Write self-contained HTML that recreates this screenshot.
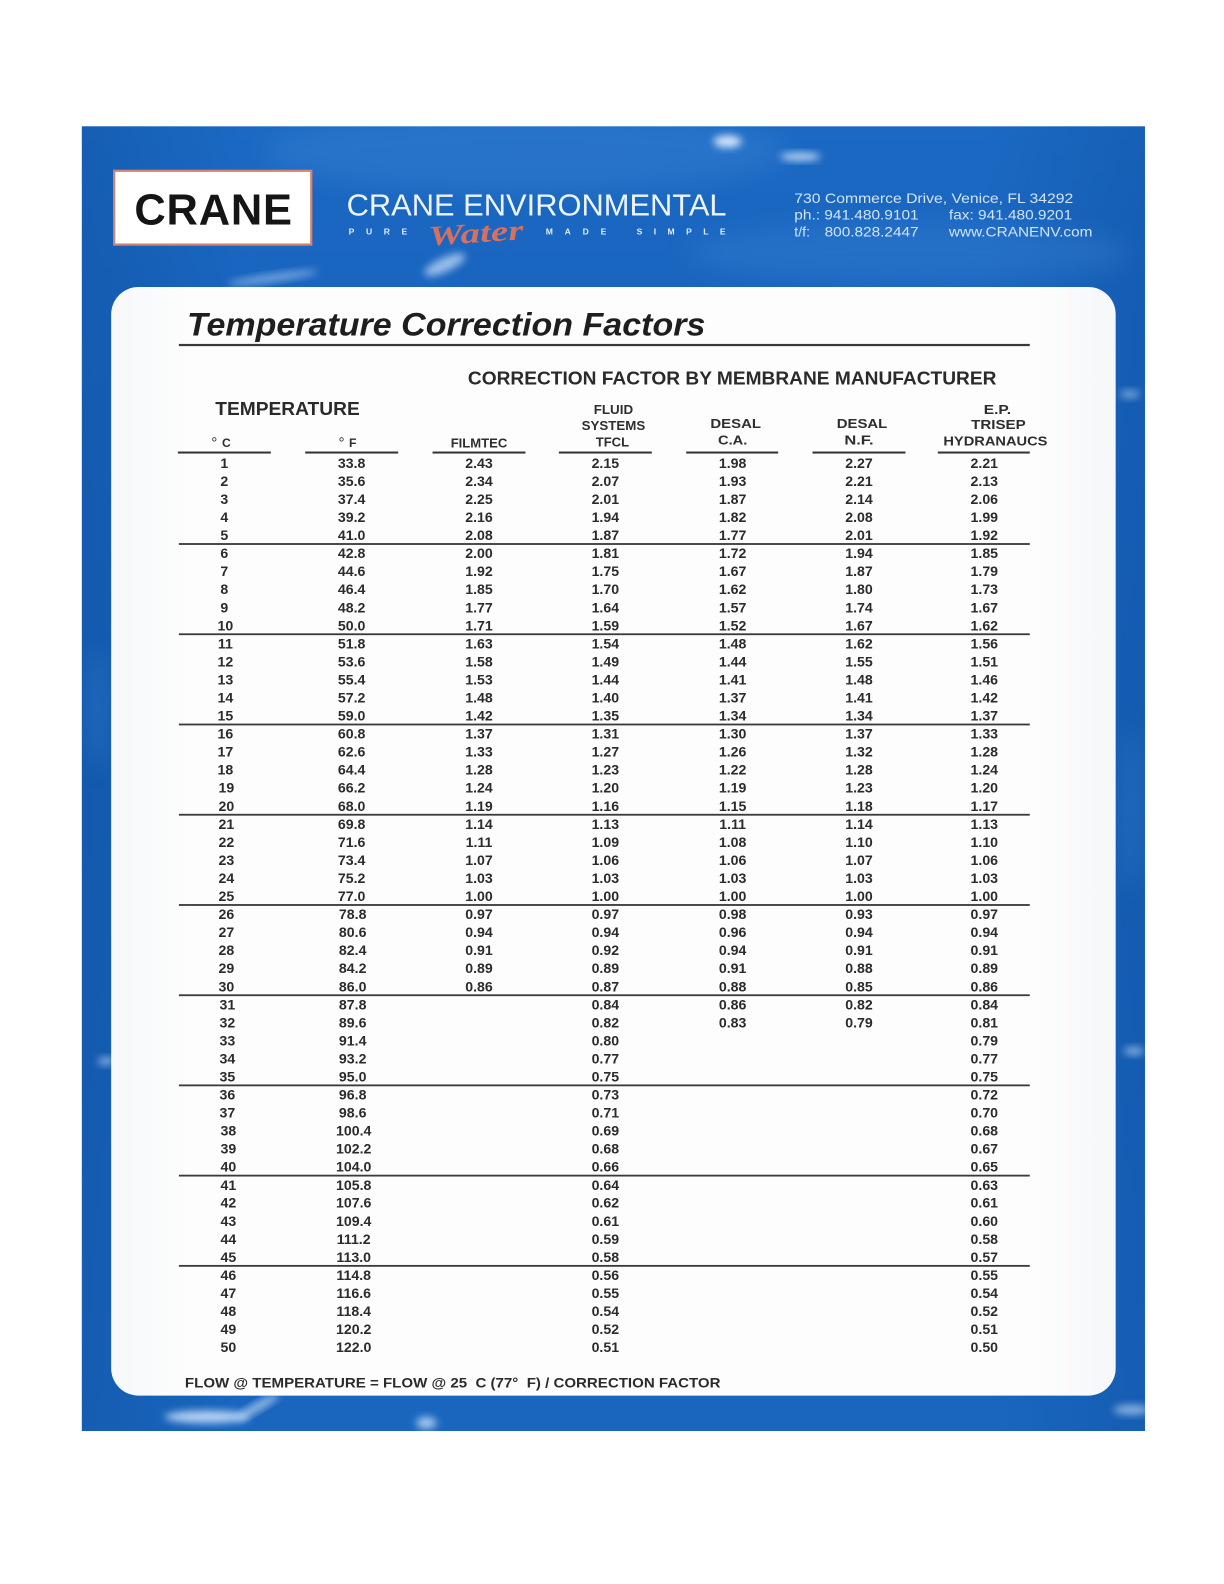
<!DOCTYPE html>
<html>
<head>
<meta charset="utf-8">
<style>
html,body{margin:0;padding:0;background:#fff;}
body{width:1224px;height:1584px;overflow:hidden;}
svg{display:block;}
</style>
</head>
<body>
<svg width="1224" height="1584" viewBox="0 0 1211.2 1567.4" preserveAspectRatio="none" xmlns="http://www.w3.org/2000/svg" font-family="'Liberation Sans', Arial, sans-serif">
<defs>
  <linearGradient id="bg" x1="0" y1="0" x2="0" y2="1">
    <stop offset="0" stop-color="#1b69c3"/>
    <stop offset="0.12" stop-color="#1965bf"/>
    <stop offset="0.5" stop-color="#1762b9"/>
    <stop offset="1" stop-color="#1a66bf"/>
  </linearGradient>
  <linearGradient id="bgh" x1="0" y1="0" x2="1" y2="0">
    <stop offset="0" stop-color="#0c4a98" stop-opacity="0.35"/>
    <stop offset="0.15" stop-color="#0c4a98" stop-opacity="0"/>
    <stop offset="0.85" stop-color="#0c4a98" stop-opacity="0"/>
    <stop offset="1" stop-color="#0c4a98" stop-opacity="0.3"/>
  </linearGradient>
  <linearGradient id="card" x1="0" y1="0" x2="1" y2="0">
    <stop offset="0" stop-color="#f6f8fa"/>
    <stop offset="0.08" stop-color="#fdfdfd"/>
    <stop offset="0.92" stop-color="#fdfdfd"/>
    <stop offset="1" stop-color="#f5f7f9"/>
  </linearGradient>
  <filter id="blur4" x="-50%" y="-50%" width="200%" height="200%"><feGaussianBlur stdDeviation="4"/></filter>
  <filter id="blur10" x="-50%" y="-50%" width="200%" height="200%"><feGaussianBlur stdDeviation="12"/></filter>
  <clipPath id="panel"><rect x="81" y="125" width="1052" height="1291"/></clipPath>
</defs>

<!-- blue panel -->
<rect x="81" y="125" width="1052" height="1291" fill="url(#bg)"/>
<rect x="81" y="125" width="1052" height="1291" fill="url(#bgh)"/>
<g clip-path="url(#panel)">
  <ellipse cx="520" cy="150" rx="260" ry="40" fill="#4f94e0" opacity="0.25" filter="url(#blur10)"/>
  <ellipse cx="900" cy="250" rx="220" ry="30" fill="#4a8fdc" opacity="0.25" filter="url(#blur10)"/>
  <ellipse cx="720" cy="140" rx="14" ry="6" fill="#e8f2ff" opacity="0.9" filter="url(#blur4)"/>
  <ellipse cx="792" cy="155" rx="20" ry="4" fill="#e8f2ff" opacity="0.8" filter="url(#blur4)"/>
  <ellipse cx="440" cy="262" rx="22" ry="7" fill="#cfe3fb" opacity="0.7" filter="url(#blur4)" transform="rotate(-25 440 262)"/>
  <ellipse cx="270" cy="275" rx="45" ry="4" fill="#cfe3fb" opacity="0.5" filter="url(#blur4)" transform="rotate(-8 270 275)"/>
  <ellipse cx="205" cy="1402" rx="42" ry="6" fill="#d4e7fd" opacity="0.85" filter="url(#blur4)"/>
  <ellipse cx="255" cy="1392" rx="24" ry="4" fill="#d4e7fd" opacity="0.7" filter="url(#blur4)" transform="rotate(-30 255 1392)"/>
  <ellipse cx="422" cy="1408" rx="10" ry="6" fill="#d4e7fd" opacity="0.75" filter="url(#blur4)"/>
  <ellipse cx="105" cy="1050" rx="8" ry="4" fill="#d4e7fd" opacity="0.6" filter="url(#blur4)"/>
  <ellipse cx="1122" cy="1040" rx="10" ry="4" fill="#d4e7fd" opacity="0.6" filter="url(#blur4)"/>
  <ellipse cx="1118" cy="390" rx="10" ry="4" fill="#d4e7fd" opacity="0.5" filter="url(#blur4)"/>
  <ellipse cx="1120" cy="1395" rx="18" ry="5" fill="#d4e7fd" opacity="0.6" filter="url(#blur4)"/>
  <ellipse cx="96" cy="700" rx="10" ry="60" fill="#3b84d6" opacity="0.4" filter="url(#blur10)"/>
  <ellipse cx="1120" cy="800" rx="10" ry="80" fill="#3b84d6" opacity="0.4" filter="url(#blur10)"/>
</g>

<!-- white card -->
<rect x="110" y="284" width="994" height="1097" rx="27" ry="27" fill="url(#card)"/>

<!-- logo box -->
<rect x="113" y="169" width="195" height="73" fill="#ffffff" stroke="#d7826f" stroke-width="2.2"/>
<text x="133" y="222" font-size="43" font-weight="bold" fill="#151515" textLength="156" lengthAdjust="spacing">CRANE</text>

<!-- company name -->
<text x="343" y="213" font-size="30" fill="#eef4fc" textLength="376" lengthAdjust="spacingAndGlyphs">CRANE ENVIRONMENTAL</text>
<g font-size="8.5" font-weight="bold" fill="#e3edf9">
  <text x="345" y="232" textLength="58" lengthAdjust="spacing">PURE</text>
  <text x="540" y="232" textLength="60" lengthAdjust="spacing">MADE</text>
  <text x="630" y="232" textLength="88" lengthAdjust="spacing">SIMPLE</text>
</g>
<text x="424" y="240" font-family="'Liberation Serif', serif" font-style="italic" font-weight="bold" font-size="28" fill="#d8705f" textLength="94" lengthAdjust="spacingAndGlyphs" transform="rotate(-4 470 232)">Water</text>

<!-- address -->
<g font-size="14" fill="#d3e4f7">
  <text x="786" y="201" textLength="276" lengthAdjust="spacingAndGlyphs">730 Commerce Drive, Venice, FL  34292</text>
  <text x="786" y="217" textLength="123" lengthAdjust="spacingAndGlyphs">ph.: 941.480.9101</text>
  <text x="939" y="217" textLength="122" lengthAdjust="spacingAndGlyphs">fax: 941.480.9201</text>
  <text x="786" y="234">t/f:</text>
  <text x="816" y="234" textLength="93" lengthAdjust="spacingAndGlyphs">800.828.2447</text>
  <text x="939" y="234" textLength="142" lengthAdjust="spacingAndGlyphs">www.CRANENV.com</text>
</g>

<!-- title -->
<text x="185" y="332" font-size="32" font-weight="bold" font-style="italic" fill="#1e1e1e" textLength="513" lengthAdjust="spacingAndGlyphs">Temperature Correction Factors</text>
<rect x="177" y="340.3" width="842" height="2.2" fill="#3a3a3a"/>

<text x="463" y="380.5" font-size="18" font-weight="bold" fill="#2a2a2a" textLength="523" lengthAdjust="spacingAndGlyphs">CORRECTION FACTOR BY MEMBRANE MANUFACTURER</text>
<text x="213" y="410.5" font-size="18" font-weight="bold" fill="#2a2a2a" textLength="143" lengthAdjust="spacingAndGlyphs">TEMPERATURE</text>

<!-- column headers -->
<g font-size="13" font-weight="bold" fill="#2e2e2e" text-anchor="middle">
  <text x="212" y="443" font-size="15" font-weight="normal">°</text>
  <text x="224" y="442.5" font-size="12">C</text>
  <text x="338" y="443" font-size="15" font-weight="normal">°</text>
  <text x="349" y="442.5" font-size="12">F</text>
  <text x="474" y="442.7" textLength="56" lengthAdjust="spacingAndGlyphs">FILMTEC</text>
  <text x="607" y="409.7" textLength="39" lengthAdjust="spacingAndGlyphs">FLUID</text>
  <text x="607" y="425.7" textLength="63" lengthAdjust="spacingAndGlyphs">SYSTEMS</text>
  <text x="606" y="441.7" textLength="33" lengthAdjust="spacingAndGlyphs">TFCL</text>
  <text x="728" y="423.7" textLength="50" lengthAdjust="spacingAndGlyphs">DESAL</text>
  <text x="725" y="439.7" textLength="29" lengthAdjust="spacingAndGlyphs">C.A.</text>
  <text x="853" y="423.7" textLength="50" lengthAdjust="spacingAndGlyphs">DESAL</text>
  <text x="850" y="439.7" textLength="29" lengthAdjust="spacingAndGlyphs">N.F.</text>
  <text x="987" y="409.7" textLength="27" lengthAdjust="spacingAndGlyphs">E.P.</text>
  <text x="988" y="424.7" textLength="54" lengthAdjust="spacingAndGlyphs">TRISEP</text>
  <text x="985" y="440.7" textLength="103" lengthAdjust="spacingAndGlyphs">HYDRANAUCS</text>
</g>
<g fill="#333">
  <rect x="176" y="446.8" width="92" height="2"/>
  <rect x="302" y="446.8" width="92" height="2"/>
  <rect x="428" y="446.8" width="92" height="2"/>
  <rect x="553" y="446.8" width="92" height="2"/>
  <rect x="679" y="446.8" width="91" height="2"/>
  <rect x="804" y="446.8" width="92" height="2"/>
  <rect x="928" y="446.8" width="91" height="2"/>
</g>

<!-- group separators -->
<g fill="#3a3a3a">
  <rect x="177" y="537.4" width="842" height="1.8"/>
  <rect x="177" y="626.7" width="842" height="1.8"/>
  <rect x="177" y="716.0" width="842" height="1.8"/>
  <rect x="177" y="805.3" width="842" height="1.8"/>
  <rect x="177" y="894.6" width="842" height="1.8"/>
  <rect x="177" y="983.9" width="842" height="1.8"/>
  <rect x="177" y="1073.1" width="842" height="1.8"/>
  <rect x="177" y="1162.4" width="842" height="1.8"/>
  <rect x="177" y="1251.7" width="842" height="1.8"/>
</g>

<!-- data -->
<g font-size="14" font-weight="bold" fill="#2b2b2b" text-anchor="middle">
<text y="463.0"><tspan x="222">1</tspan><tspan x="348">33.8</tspan><tspan x="474">2.43</tspan><tspan x="599">2.15</tspan><tspan x="725">1.98</tspan><tspan x="850">2.27</tspan><tspan x="974">2.21</tspan></text>
<text y="480.9"><tspan x="222">2</tspan><tspan x="348">35.6</tspan><tspan x="474">2.34</tspan><tspan x="599">2.07</tspan><tspan x="725">1.93</tspan><tspan x="850">2.21</tspan><tspan x="974">2.13</tspan></text>
<text y="498.7"><tspan x="222">3</tspan><tspan x="348">37.4</tspan><tspan x="474">2.25</tspan><tspan x="599">2.01</tspan><tspan x="725">1.87</tspan><tspan x="850">2.14</tspan><tspan x="974">2.06</tspan></text>
<text y="516.6"><tspan x="222">4</tspan><tspan x="348">39.2</tspan><tspan x="474">2.16</tspan><tspan x="599">1.94</tspan><tspan x="725">1.82</tspan><tspan x="850">2.08</tspan><tspan x="974">1.99</tspan></text>
<text y="534.4"><tspan x="222">5</tspan><tspan x="348">41.0</tspan><tspan x="474">2.08</tspan><tspan x="599">1.87</tspan><tspan x="725">1.77</tspan><tspan x="850">2.01</tspan><tspan x="974">1.92</tspan></text>
<text y="552.3"><tspan x="222">6</tspan><tspan x="348">42.8</tspan><tspan x="474">2.00</tspan><tspan x="599">1.81</tspan><tspan x="725">1.72</tspan><tspan x="850">1.94</tspan><tspan x="974">1.85</tspan></text>
<text y="570.1"><tspan x="222">7</tspan><tspan x="348">44.6</tspan><tspan x="474">1.92</tspan><tspan x="599">1.75</tspan><tspan x="725">1.67</tspan><tspan x="850">1.87</tspan><tspan x="974">1.79</tspan></text>
<text y="588.0"><tspan x="222">8</tspan><tspan x="348">46.4</tspan><tspan x="474">1.85</tspan><tspan x="599">1.70</tspan><tspan x="725">1.62</tspan><tspan x="850">1.80</tspan><tspan x="974">1.73</tspan></text>
<text y="605.9"><tspan x="222">9</tspan><tspan x="348">48.2</tspan><tspan x="474">1.77</tspan><tspan x="599">1.64</tspan><tspan x="725">1.57</tspan><tspan x="850">1.74</tspan><tspan x="974">1.67</tspan></text>
<text y="623.7"><tspan x="223">10</tspan><tspan x="348">50.0</tspan><tspan x="474">1.71</tspan><tspan x="599">1.59</tspan><tspan x="725">1.52</tspan><tspan x="850">1.67</tspan><tspan x="974">1.62</tspan></text>
<text y="641.6"><tspan x="223">11</tspan><tspan x="348">51.8</tspan><tspan x="474">1.63</tspan><tspan x="599">1.54</tspan><tspan x="725">1.48</tspan><tspan x="850">1.62</tspan><tspan x="974">1.56</tspan></text>
<text y="659.4"><tspan x="223">12</tspan><tspan x="348">53.6</tspan><tspan x="474">1.58</tspan><tspan x="599">1.49</tspan><tspan x="725">1.44</tspan><tspan x="850">1.55</tspan><tspan x="974">1.51</tspan></text>
<text y="677.3"><tspan x="223">13</tspan><tspan x="348">55.4</tspan><tspan x="474">1.53</tspan><tspan x="599">1.44</tspan><tspan x="725">1.41</tspan><tspan x="850">1.48</tspan><tspan x="974">1.46</tspan></text>
<text y="695.1"><tspan x="223">14</tspan><tspan x="348">57.2</tspan><tspan x="474">1.48</tspan><tspan x="599">1.40</tspan><tspan x="725">1.37</tspan><tspan x="850">1.41</tspan><tspan x="974">1.42</tspan></text>
<text y="713.0"><tspan x="223">15</tspan><tspan x="348">59.0</tspan><tspan x="474">1.42</tspan><tspan x="599">1.35</tspan><tspan x="725">1.34</tspan><tspan x="850">1.34</tspan><tspan x="974">1.37</tspan></text>
<text y="730.9"><tspan x="223">16</tspan><tspan x="348">60.8</tspan><tspan x="474">1.37</tspan><tspan x="599">1.31</tspan><tspan x="725">1.30</tspan><tspan x="850">1.37</tspan><tspan x="974">1.33</tspan></text>
<text y="748.7"><tspan x="223">17</tspan><tspan x="348">62.6</tspan><tspan x="474">1.33</tspan><tspan x="599">1.27</tspan><tspan x="725">1.26</tspan><tspan x="850">1.32</tspan><tspan x="974">1.28</tspan></text>
<text y="766.6"><tspan x="223">18</tspan><tspan x="348">64.4</tspan><tspan x="474">1.28</tspan><tspan x="599">1.23</tspan><tspan x="725">1.22</tspan><tspan x="850">1.28</tspan><tspan x="974">1.24</tspan></text>
<text y="784.4"><tspan x="224">19</tspan><tspan x="348">66.2</tspan><tspan x="474">1.24</tspan><tspan x="599">1.20</tspan><tspan x="725">1.19</tspan><tspan x="850">1.23</tspan><tspan x="974">1.20</tspan></text>
<text y="802.3"><tspan x="224">20</tspan><tspan x="348">68.0</tspan><tspan x="474">1.19</tspan><tspan x="599">1.16</tspan><tspan x="725">1.15</tspan><tspan x="850">1.18</tspan><tspan x="974">1.17</tspan></text>
<text y="820.1"><tspan x="224">21</tspan><tspan x="348">69.8</tspan><tspan x="474">1.14</tspan><tspan x="599">1.13</tspan><tspan x="725">1.11</tspan><tspan x="850">1.14</tspan><tspan x="974">1.13</tspan></text>
<text y="838.0"><tspan x="224">22</tspan><tspan x="348">71.6</tspan><tspan x="474">1.11</tspan><tspan x="599">1.09</tspan><tspan x="725">1.08</tspan><tspan x="850">1.10</tspan><tspan x="974">1.10</tspan></text>
<text y="855.9"><tspan x="224">23</tspan><tspan x="348">73.4</tspan><tspan x="474">1.07</tspan><tspan x="599">1.06</tspan><tspan x="725">1.06</tspan><tspan x="850">1.07</tspan><tspan x="974">1.06</tspan></text>
<text y="873.7"><tspan x="224">24</tspan><tspan x="348">75.2</tspan><tspan x="474">1.03</tspan><tspan x="599">1.03</tspan><tspan x="725">1.03</tspan><tspan x="850">1.03</tspan><tspan x="974">1.03</tspan></text>
<text y="891.6"><tspan x="224">25</tspan><tspan x="348">77.0</tspan><tspan x="474">1.00</tspan><tspan x="599">1.00</tspan><tspan x="725">1.00</tspan><tspan x="850">1.00</tspan><tspan x="974">1.00</tspan></text>
<text y="909.4"><tspan x="224">26</tspan><tspan x="349">78.8</tspan><tspan x="474">0.97</tspan><tspan x="599">0.97</tspan><tspan x="725">0.98</tspan><tspan x="850">0.93</tspan><tspan x="974">0.97</tspan></text>
<text y="927.3"><tspan x="224">27</tspan><tspan x="349">80.6</tspan><tspan x="474">0.94</tspan><tspan x="599">0.94</tspan><tspan x="725">0.96</tspan><tspan x="850">0.94</tspan><tspan x="974">0.94</tspan></text>
<text y="945.1"><tspan x="224">28</tspan><tspan x="349">82.4</tspan><tspan x="474">0.91</tspan><tspan x="599">0.92</tspan><tspan x="725">0.94</tspan><tspan x="850">0.91</tspan><tspan x="974">0.91</tspan></text>
<text y="963.0"><tspan x="224">29</tspan><tspan x="349">84.2</tspan><tspan x="474">0.89</tspan><tspan x="599">0.89</tspan><tspan x="725">0.91</tspan><tspan x="850">0.88</tspan><tspan x="974">0.89</tspan></text>
<text y="980.9"><tspan x="224">30</tspan><tspan x="349">86.0</tspan><tspan x="474">0.86</tspan><tspan x="599">0.87</tspan><tspan x="725">0.88</tspan><tspan x="850">0.85</tspan><tspan x="974">0.86</tspan></text>
<text y="998.7"><tspan x="225">31</tspan><tspan x="349">87.8</tspan><tspan x="599">0.84</tspan><tspan x="725">0.86</tspan><tspan x="850">0.82</tspan><tspan x="974">0.84</tspan></text>
<text y="1016.6"><tspan x="225">32</tspan><tspan x="349">89.6</tspan><tspan x="599">0.82</tspan><tspan x="725">0.83</tspan><tspan x="850">0.79</tspan><tspan x="974">0.81</tspan></text>
<text y="1034.4"><tspan x="225">33</tspan><tspan x="349">91.4</tspan><tspan x="599">0.80</tspan><tspan x="974">0.79</tspan></text>
<text y="1052.3"><tspan x="225">34</tspan><tspan x="349">93.2</tspan><tspan x="599">0.77</tspan><tspan x="974">0.77</tspan></text>
<text y="1070.1"><tspan x="225">35</tspan><tspan x="349">95.0</tspan><tspan x="599">0.75</tspan><tspan x="974">0.75</tspan></text>
<text y="1088.0"><tspan x="225">36</tspan><tspan x="349">96.8</tspan><tspan x="599">0.73</tspan><tspan x="974">0.72</tspan></text>
<text y="1105.9"><tspan x="225">37</tspan><tspan x="349">98.6</tspan><tspan x="599">0.71</tspan><tspan x="974">0.70</tspan></text>
<text y="1123.7"><tspan x="226">38</tspan><tspan x="350">100.4</tspan><tspan x="599">0.69</tspan><tspan x="974">0.68</tspan></text>
<text y="1141.6"><tspan x="226">39</tspan><tspan x="350">102.2</tspan><tspan x="599">0.68</tspan><tspan x="974">0.67</tspan></text>
<text y="1159.4"><tspan x="226">40</tspan><tspan x="350">104.0</tspan><tspan x="599">0.66</tspan><tspan x="974">0.65</tspan></text>
<text y="1177.3"><tspan x="226">41</tspan><tspan x="350">105.8</tspan><tspan x="599">0.64</tspan><tspan x="974">0.63</tspan></text>
<text y="1195.1"><tspan x="226">42</tspan><tspan x="350">107.6</tspan><tspan x="599">0.62</tspan><tspan x="974">0.61</tspan></text>
<text y="1213.0"><tspan x="226">43</tspan><tspan x="350">109.4</tspan><tspan x="599">0.61</tspan><tspan x="974">0.60</tspan></text>
<text y="1230.9"><tspan x="226">44</tspan><tspan x="350">111.2</tspan><tspan x="599">0.59</tspan><tspan x="974">0.58</tspan></text>
<text y="1248.7"><tspan x="226">45</tspan><tspan x="350">113.0</tspan><tspan x="599">0.58</tspan><tspan x="974">0.57</tspan></text>
<text y="1266.6"><tspan x="226">46</tspan><tspan x="350">114.8</tspan><tspan x="599">0.56</tspan><tspan x="974">0.55</tspan></text>
<text y="1284.4"><tspan x="226">47</tspan><tspan x="350">116.6</tspan><tspan x="599">0.55</tspan><tspan x="974">0.54</tspan></text>
<text y="1302.3"><tspan x="226">48</tspan><tspan x="350">118.4</tspan><tspan x="599">0.54</tspan><tspan x="974">0.52</tspan></text>
<text y="1320.1"><tspan x="226">49</tspan><tspan x="350">120.2</tspan><tspan x="599">0.52</tspan><tspan x="974">0.51</tspan></text>
<text y="1338.0"><tspan x="226">50</tspan><tspan x="350">122.0</tspan><tspan x="599">0.51</tspan><tspan x="974">0.50</tspan></text>
</g>

<!-- footer formula -->
<text x="183" y="1373" font-size="14" font-weight="bold" fill="#2b2b2b" textLength="530" lengthAdjust="spacingAndGlyphs" xml:space="preserve">FLOW @ TEMPERATURE = FLOW @ 25  C (77°  F) / CORRECTION FACTOR</text>
</svg>
</body>
</html>
